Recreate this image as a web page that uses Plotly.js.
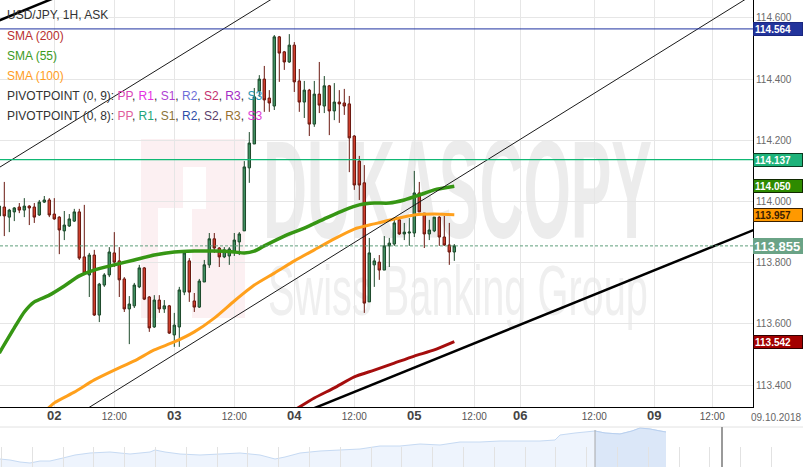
<!DOCTYPE html>
<html>
<head>
<meta charset="utf-8">
<script src="https://cdn.plot.ly/plotly-3.0.1.min.js"></script>
<style>
html,body{margin:0;padding:0;background:#fff;overflow:hidden}
#chart{width:803px;height:467px}
</style>
</head>
<body>
<div id="chart"></div>
<script>
// ---- data: hourly candles, x = hours since 01.10.2018 00:00 ----
var hours = [13,14,15,16,17,18,19,20,21,22,23,24,25,26,27,28,29,30,31,32,33,34,35,36,37,38,39,40,41,42,43,44,45,46,47,48,49,50,51,52,53,54,55,56,57,58,59,60,61,62,63,64,65,66,67,68,69,70,71,72,73,74,75,76,77,78,79,80,81,82,83,84,85,86,87,88,89,90,91,92,93,94,95,96,97,98,99,100,101,102,103,104];
var openP = [113.953,113.982,113.949,113.966,113.982,113.972,113.985,113.982,113.956,113.998,114.005,113.959,113.949,113.904,113.920,113.936,113.966,113.819,113.760,113.825,113.629,113.727,113.760,113.832,113.806,113.747,113.649,113.659,113.721,113.783,113.688,113.590,113.678,113.649,113.659,113.564,113.590,113.704,113.806,113.675,113.655,113.737,113.793,113.878,113.848,113.819,113.822,113.838,113.868,113.904,114.110,114.188,114.361,114.400,114.338,114.312,114.538,114.489,114.456,114.511,114.394,114.325,114.364,114.253,114.351,114.312,114.378,114.296,114.325,114.322,114.319,114.214,114.132,114.061,113.672,113.793,113.802,113.776,113.855,113.861,113.940,113.894,113.897,113.897,114.028,113.962,113.894,113.904,113.949,113.884,113.858,113.835];
var highP = [113.992,114.064,113.976,113.982,113.995,114.011,113.988,113.995,114.005,114.018,114.011,114.011,113.952,113.969,113.959,113.976,113.976,113.989,113.832,113.842,113.734,113.766,113.851,113.900,113.851,113.753,113.691,113.734,113.793,113.786,113.691,113.694,113.694,113.678,113.662,113.636,113.721,113.838,113.815,113.701,113.747,113.809,113.897,113.897,113.851,113.851,113.851,113.897,113.900,114.132,114.227,114.371,114.413,114.443,114.364,114.544,114.541,114.492,114.547,114.521,114.433,114.394,114.368,114.394,114.456,114.410,114.381,114.387,114.364,114.368,114.345,114.217,114.149,114.119,113.881,113.815,113.825,113.887,113.881,113.943,113.949,113.930,113.946,114.100,114.064,113.962,113.940,113.949,113.952,113.953,113.930,113.861];
var lowP = [113.940,113.887,113.900,113.936,113.962,113.949,113.923,113.930,113.953,113.995,113.949,113.940,113.828,113.874,113.917,113.933,113.809,113.760,113.688,113.626,113.606,113.721,113.753,113.786,113.688,113.639,113.534,113.652,113.717,113.678,113.574,113.587,113.636,113.636,113.567,113.525,113.525,113.694,113.672,113.639,113.652,113.737,113.783,113.832,113.786,113.815,113.793,113.822,113.825,113.904,114.061,114.188,114.342,114.293,114.293,114.299,114.391,114.430,114.453,114.358,114.293,114.273,114.214,114.244,114.289,114.289,114.217,114.266,114.257,114.283,114.096,114.038,114.005,113.636,113.672,113.721,113.744,113.776,113.786,113.855,113.891,113.874,113.855,113.884,113.966,113.848,113.874,113.900,113.855,113.855,113.793,113.806];
var closeP = [113.985,113.953,113.972,113.979,113.972,113.985,113.979,113.949,113.998,114.005,113.956,113.943,113.907,113.923,113.943,113.966,113.815,113.766,113.825,113.629,113.730,113.760,113.835,113.802,113.744,113.649,113.665,113.727,113.783,113.681,113.587,113.678,113.649,113.659,113.570,113.596,113.711,113.832,113.704,113.655,113.740,113.793,113.878,113.848,113.819,113.842,113.845,113.874,113.894,114.113,114.191,114.342,114.400,114.332,114.322,114.538,114.485,114.456,114.511,114.391,114.325,114.364,114.253,114.351,114.315,114.378,114.296,114.325,114.319,114.312,114.208,114.054,114.054,113.668,113.832,113.806,113.776,113.855,113.864,113.930,113.894,113.900,113.900,114.028,113.966,113.894,113.907,113.949,113.884,113.858,113.835,113.855];

// moving averages (read at selected hours)
var sma55Hours = [13,16,18,20,23,26,29,32,36,40,44,48,52,56,60,62,64,66,70,74,78,82,85,88,91,94,97,100,104];
var sma55 = [113.505,113.587,113.639,113.672,113.694,113.724,113.757,113.776,113.793,113.809,113.825,113.835,113.838,113.838,113.835,113.832,113.838,113.855,113.887,113.913,113.943,113.972,113.989,113.995,113.995,114.005,114.021,114.038,114.050];
var sma100Hours = [21,24,28,32,36,40,44,48,52,56,60,64,68,72,76,80,84,88,92,96,100,104];
var sma100 = [113.296,113.342,113.377,113.417,113.449,113.479,113.515,113.541,113.574,113.619,113.675,113.727,113.766,113.806,113.842,113.878,113.910,113.927,113.943,113.956,113.959,113.957];
var sma200Hours = [72,76,80,84,88,92,96,100,104];
var sma200 = [113.318,113.358,113.391,113.427,113.449,113.472,113.495,113.515,113.542];

// trend lines (two anchor points each)
var thinUpperX = [10, 70],   thinUpperY = [114.081, 114.687];
var thinLowerX = [28, 165],  thinLowerY = [113.297, 114.689];
var thickUpperX = [10, 30],  thickUpperY = [114.572, 114.705];
var thickLowerX = [70, 166], thickLowerY = [113.285, 113.921];

// horizontal levels
var blueLevel = 114.564, greenLevel = 114.137, lastPrice = 113.855;
var sma55Last = 114.050, sma100Last = 113.957, sma200Last = 113.542;

// axis ticks
var xTickVals = [24,36,48,60,72,84,96,108,117.2,132,144,155.6];
var xTickText = ['02','12:00','03','12:00','04','12:00','05','12:00','06','12:00','09','12:00'];
var yTickVals = [113.4,113.6,113.8,114.0,114.2,114.4,114.6];
var yTickText = ['113.400','113.600','113.800','114.000','114.200','114.400','114.600'];

// navigator (overview strip)
var navIndex = [0,10,20,30,40,50,63,75,90,110,130,150,155,165,180,200,220,240,260,275,285,300,320,340,360,380,400,420,440,460,480,500,520,540,555,560,575,595,605,620,632,640,650,660,666];
var navLevel = [8,7,5,4,6,6,9,12,14,15,13,15,17,15,13,12,13,14,12,8,10,14,16,17,18,21,21,23,22,25,25,26,26,26,27,32,34,36,34,33,36,39,38,36,35];
var navSelStart = 595, navHandle = 722;

// ---- helpers ----
var W = 803, H = 467;
function px(x){ return x / W; }
function py(y){ return 1 - y / H; }

var selIdx = [], selLev = [];
for (var i = 0; i < navIndex.length; i++) if (navIndex[i] >= navSelStart) { selIdx.push(navIndex[i]); selLev.push(navLevel[i]); }

var narrow = 'Liberation Sans Narrow, Arial Narrow, Liberation Sans, Arial, sans-serif';
var xTickDisplay = xTickText.map(function(t){
  return t.indexOf(':') >= 0 ? t : '<b><span style="font-size:13px;fill:#444">' + t + '</span></b>';
});

var data = [
  {type:'candlestick', x:hours, open:openP, high:highP, low:lowP, close:closeP,
   xaxis:'x', yaxis:'y', whiskerwidth:0, hoverinfo:'skip',
   increasing:{line:{color:'#1d4a2b', width:1}, fillcolor:'#3f8f60'},
   decreasing:{line:{color:'#6a1810', width:1}, fillcolor:'#cf3e2b'}},
  {type:'scatter', mode:'lines', x:sma200Hours, y:sma200, line:{color:'#a50d0d', width:3, shape:'spline', smoothing:0.6}, hoverinfo:'skip'},
  {type:'scatter', mode:'lines', x:sma100Hours, y:sma100, line:{color:'#ffa01c', width:3, shape:'spline', smoothing:0.6}, hoverinfo:'skip'},
  {type:'scatter', mode:'lines', x:sma55Hours, y:sma55, line:{color:'#369614', width:3.5, shape:'spline', smoothing:0.6}, hoverinfo:'skip'},
  {type:'scatter', mode:'lines', x:thinUpperX, y:thinUpperY, line:{color:'#1a1a1a', width:1}, hoverinfo:'skip'},
  {type:'scatter', mode:'lines', x:thinLowerX, y:thinLowerY, line:{color:'#1a1a1a', width:1}, hoverinfo:'skip'},
  {type:'scatter', mode:'lines', x:thickUpperX, y:thickUpperY, line:{color:'#000', width:2.5}, hoverinfo:'skip'},
  {type:'scatter', mode:'lines', x:thickLowerX, y:thickLowerY, line:{color:'#000', width:2.5}, hoverinfo:'skip'},
  {type:'scatter', mode:'lines', x:navIndex, y:navLevel, xaxis:'x2', yaxis:'y2', fill:'tozeroy', fillcolor:'#eef4fd', line:{color:'#c6daf3', width:1}, hoverinfo:'skip'},
  {type:'scatter', mode:'lines', x:selIdx, y:selLev, xaxis:'x2', yaxis:'y2', fill:'tozeroy', fillcolor:'#dbe7f8', line:{color:'#b9d0ef', width:1}, hoverinfo:'skip'}
];

var shapes = [
  // watermark logo
  {type:'rect', xref:'paper', yref:'paper', x0:px(141), x1:px(245), y0:py(318), y1:py(139), fillcolor:'#fcf0f2', line:{width:0}, layer:'below'},
  {type:'rect', xref:'paper', yref:'paper', x0:px(183), x1:px(206), y0:py(209), y1:py(167), fillcolor:'#ffffff', line:{width:0}, layer:'below'},
  {type:'rect', xref:'paper', yref:'paper', x0:px(158), x1:px(192), y0:py(318), y1:py(208), fillcolor:'#ffffff', line:{width:0}, layer:'below'},
  // watermark texts
  {type:'rect', xref:'paper', yref:'paper', x0:px(250), x1:px(660), y0:py(250), y1:py(130), line:{width:0}, fillcolor:'rgba(0,0,0,0)', layer:'below',
   label:{text:'DUKASCOPY', font:{size:100, color:'#ececec', family:'Liberation Sans, Arial, sans-serif', weight:'bold'}, textposition:'middle center'}},
  {type:'rect', xref:'paper', yref:'paper', x0:px(250), x1:px(660), y0:py(330), y1:py(255), line:{width:0}, fillcolor:'rgba(0,0,0,0)', layer:'below',
   label:{text:'Swiss Banking Group', font:{size:50, color:'#efefef', family:'Liberation Sans, Arial, sans-serif'}, textposition:'middle center'}},
  // horizontal levels
  {type:'line', xref:'x domain', yref:'y', x0:0, x1:1, y0:blueLevel, y1:blueLevel, line:{color:'#1f32a0', width:1}},
  {type:'line', xref:'x domain', yref:'y', x0:0, x1:1, y0:greenLevel, y1:greenLevel, line:{color:'#0fb874', width:1.3}},
  {type:'line', xref:'x domain', yref:'y', x0:0, x1:1, y0:lastPrice, y1:lastPrice, line:{color:'#5f9f7c', width:1, dash:'3px,2px'}},
  // navigator decorations
  {type:'line', xref:'paper', yref:'paper', x0:0, x1:1, y0:py(427), y1:py(427), line:{color:'#e2e2e2', width:1}},
  {type:'line', xref:'x2', yref:'paper', x0:navSelStart, x1:navSelStart, y0:0, y1:py(430), line:{color:'#a8a8a8', width:1}},
  {type:'line', xref:'x2', yref:'paper', x0:navHandle, x1:navHandle, y0:0, y1:py(427), line:{color:'#9a9a9a', width:2}}
];

function legendLine(text, yPix){
  return {xref:'paper', yref:'paper', x:px(5), y:py(yPix), xanchor:'left', yanchor:'middle', showarrow:false,
          text:text, font:{size:12, color:'#333', family:'Liberation Sans, Arial, sans-serif'}};
}
function c(col, t){ return '<span style="color:' + col + '">' + t + '</span>'; }
var sep = ', ';
var pivot9 = 'PIVOTPOINT (0, 9): ' + [c('#d846b6','PP'),c('#e531e3','R1'),c('#b03fd3','S1'),c('#6d6fd8','R2'),c('#c4316f','S2'),c('#a22cc4','R3'),c('#2896b4','S3')].join(sep);
var pivot8 = 'PIVOTPOINT (0, 8): ' + [c('#e05e9c','PP'),c('#1ea679','R1'),c('#8c7337','S1'),c('#2e4ea8','R2'),c('#5b3d6a','S2'),c('#96702f','R3'),c('#e03ad6','S3')].join(sep);

function valueBox(v, bg, fg, border, size, h){
  return {xref:'paper', yref:'y', x:px(753), y:v, xanchor:'left', yanchor:'middle', showarrow:false,
          text:'<b>' + v.toFixed(3) + '</b>', align:'left', width: border ? 46 : 48, height:h,
          bgcolor:bg, bordercolor:border || bg, borderwidth: border ? 1 : 0, borderpad:1,
          font:{size:size, color:fg, family:'Liberation Sans, Arial, sans-serif'}};
}

var annotations = [
  legendLine('USD/JPY, 1H, ASK', 15),
  legendLine(c('#b8302e','SMA (200)'), 36),
  legendLine(c('#3c9a22','SMA (55)'), 56),
  legendLine(c('#ff9d1e','SMA (100)'), 76),
  legendLine(pivot9, 96),
  legendLine(pivot8, 116),
  valueBox(blueLevel, '#22349c', '#ffffff', '#1a2780', 10, 10),
  valueBox(greenLevel, '#1eb37a', '#ffffff', '#0a3a20', 10, 10),
  valueBox(sma55Last, '#2e8b00', '#ffffff', '#102800', 10, 10),
  valueBox(sma100Last, '#ff9900', '#3a2000', '#3a2000', 10, 10),
  valueBox(lastPrice, '#6aa386', '#ffffff', null, 13, 14),
  valueBox(sma200Last, '#a30000', '#ffffff', '#300000', 10, 10),
  {xref:'paper', yref:'paper', x:px(776), y:py(417), xanchor:'center', yanchor:'middle', showarrow:false,
   text:'09.10.2018', font:{size:10, color:'#666', family:narrow}}
];

var layout = {
  width:W, height:H,
  margin:{l:0, r:0, t:0, b:0, pad:0},
  paper_bgcolor:'#ffffff', plot_bgcolor:'rgba(0,0,0,0)',
  showlegend:false,
  xaxis:{domain:[0, 753/W], anchor:'y', type:'linear', range:[13.14, 163.74],
         showline:true, linecolor:'#000', linewidth:1, mirror:false,
         showgrid:true, gridcolor:'#e6e6e6', gridwidth:1, zeroline:false,
         tickmode:'array', tickvals:xTickVals, ticktext:xTickDisplay, ticks:'',
         tickfont:{size:10, color:'#555', family:narrow},
         rangeslider:{visible:false}, fixedrange:true},
  yaxis:{domain:[60/H, 1], anchor:'x', side:'right', range:[113.3285, 114.6585],
         showline:true, linecolor:'#000', linewidth:1,
         showgrid:true, gridcolor:'#e6e6e6', gridwidth:1, zeroline:false,
         tickmode:'array', tickvals:yTickVals, ticktext:yTickText, ticks:'',
         tickfont:{size:10, color:'#6a6a6a', family:'Liberation Sans, Arial, sans-serif'}, fixedrange:true},
  xaxis2:{domain:[0,1], anchor:'y2', range:[0, W], showgrid:false, zeroline:false, showline:false,
          showticklabels:false, ticks:'inside', ticklen:20, tickcolor:'#e2e2e2', tickwidth:1,
          tick0:1.5, dtick:30.8, fixedrange:true},
  yaxis2:{domain:[0, 40/H], anchor:'x2', range:[0, 40], visible:false, fixedrange:true},
  shapes:shapes,
  annotations:annotations
};

function fitText(str, fs, left, right, capTop, baseline){
  var nodes = document.querySelectorAll('#chart text');
  for (var i = 0; i < nodes.length; i++) {
    var t = nodes[i];
    if (t.textContent !== str) continue;
    var b = t.getBBox();
    if (!b.width) continue;
    var sx = (right - left) / b.width;
    var sy = (baseline - capTop) / (0.716 * fs);
    var baseLocal = b.y + 0.905 * fs;
    t.setAttribute('transform', 'translate(' + left + ',' + baseline + ') scale(' + sx + ',' + sy + ') translate(' + (-b.x) + ',' + (-baseLocal) + ')');
  }
}

Plotly.newPlot('chart', data, layout, {staticPlot:true, displayModeBar:false}).then(function(){
  fitText('DUKASCOPY', 100, 263, 652, 138, 237);
  fitText('Swiss Banking Group', 50, 268, 648, 265, 315);
});
</script>
</body>
</html>
